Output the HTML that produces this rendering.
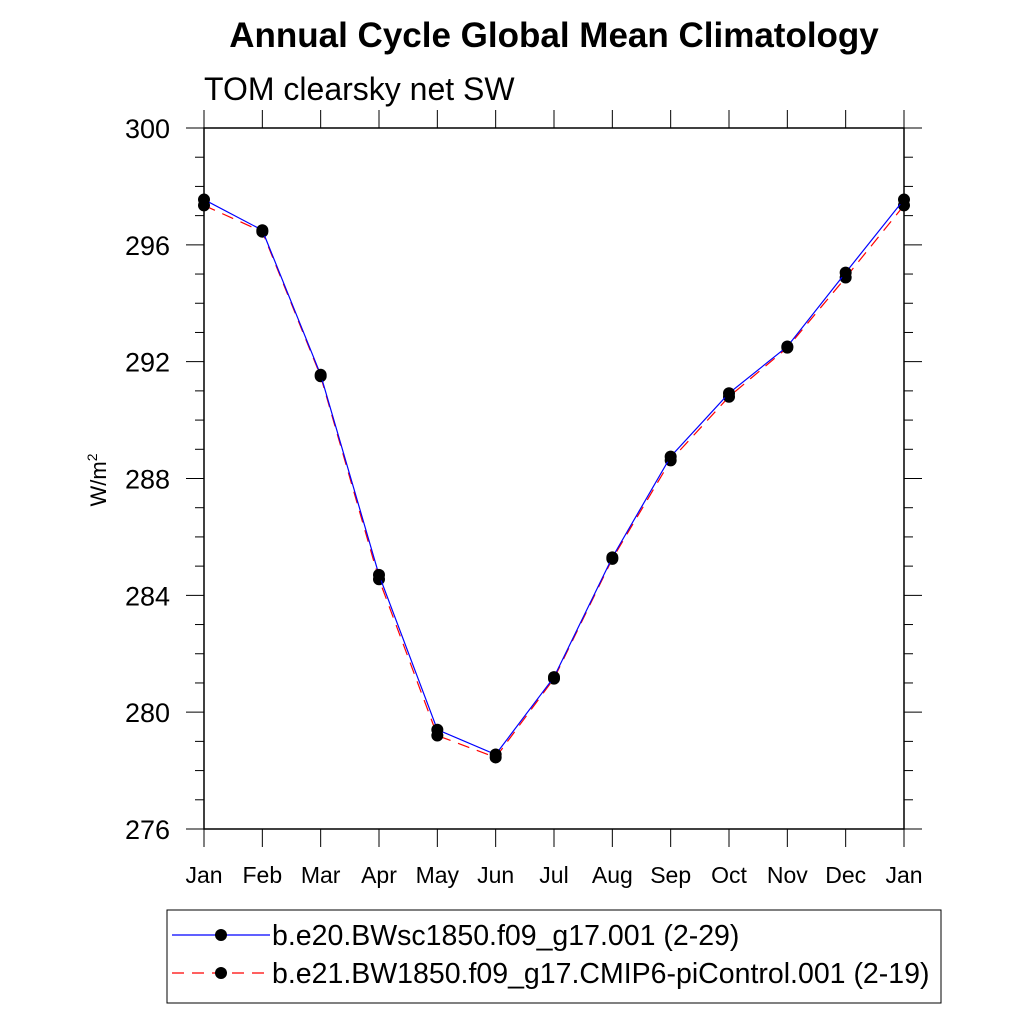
<!DOCTYPE html>
<html><head><meta charset="utf-8"><style>body{margin:0;background:#fff}svg{display:block}</style></head>
<body>
<svg id="chart" width="1024" height="1024" xmlns="http://www.w3.org/2000/svg" font-family="Liberation Sans, sans-serif">
<text x="554" y="47" font-size="35" font-weight="bold" text-anchor="middle">Annual Cycle Global Mean Climatology</text>
<text x="204" y="100" font-size="32">TOM clearsky net SW</text>
<text transform="translate(106,480) rotate(-90)" font-size="22" text-anchor="middle">W/m<tspan dy="-9" font-size="14">2</tspan></text>
<g id="axes"></g>
<g id="series"></g>
<g>
<rect x="167" y="910" width="774" height="93" fill="none" stroke="#000" stroke-width="1"/>
<line x1="172" y1="935" x2="270" y2="935" stroke="#0000ff" stroke-width="1.2"/>
<circle cx="221" cy="935" r="6" fill="#000"/>
<text x="272" y="945" font-size="28.5">b.e20.BWsc1850.f09_g17.001 (2-29)</text>
<line x1="172" y1="973" x2="270" y2="973" stroke="#ff0000" stroke-width="1.2" stroke-dasharray="12,8"/>
<circle cx="221" cy="973" r="6" fill="#000"/>
<text x="272" y="983" font-size="28.5">b.e21.BW1850.f09_g17.CMIP6-piControl.001 (2-19)</text>
</g>
</svg>
<script>
const months = ["Jan","Feb","Mar","Apr","May","Jun","Jul","Aug","Sep","Oct","Nov","Dec","Jan"];
const yTicks = [276,280,284,288,292,296,300];
const seriesBlue = [297.55,296.5,291.55,284.7,279.4,278.55,281.2,285.3,288.75,290.92,292.52,295.05,297.55];
const seriesRed  = [297.35,296.45,291.5,284.55,279.2,278.45,281.15,285.25,288.62,290.8,292.48,294.88,297.35];
const NS="http://www.w3.org/2000/svg";
const L=204,R=904,T=128,B=829,yMin=276,yMax=300;
const xs=i=>L+(R-L)*i/(months.length-1);
const ys=v=>B-(B-T)*(v-yMin)/(yMax-yMin);
function mk(tag,attrs,parent){const e=document.createElementNS(NS,tag);for(const k in attrs)e.setAttribute(k,attrs[k]);parent.appendChild(e);return e;}
const ax=document.getElementById('axes');
const frame=mk('rect',{x:L,y:T,width:R-L,height:B-T,fill:'none',stroke:'#000','stroke-width':1.5},ax);


months.forEach((m,i)=>{const x=xs(i);
 mk('line',{x1:x,y1:T,x2:x,y2:T-18,stroke:'#000','stroke-width':1},ax);
 mk('line',{x1:x,y1:B,x2:x,y2:B+18,stroke:'#000','stroke-width':1},ax);
 const t=mk('text',{x:x,y:883,'font-size':23,'text-anchor':'middle'},ax);t.textContent=m;
 
 
});
for(let v=yMin;v<=yMax;v++){const y=ys(v);const major=(v-yMin)%4===0;const len=major?18:9;
 mk('line',{x1:L,y1:y,x2:L-len,y2:y,stroke:'#000','stroke-width':1},ax);
 mk('line',{x1:R,y1:y,x2:R+len,y2:y,stroke:'#000','stroke-width':1},ax);}
yTicks.forEach(v=>{const t=mk('text',{x:170,y:ys(v)+10,'font-size':27,'text-anchor':'end'},ax);t.textContent=v;
 
 });
const sg=document.getElementById('series');
function draw(vals,color,dash,name){
 const p=mk('polyline',{points:vals.map((v,i)=>xs(i)+','+ys(v)).join(' '),fill:'none',stroke:color,'stroke-width':1.2},sg);
 if(dash)p.setAttribute('stroke-dasharray',dash);
 
 
 vals.forEach((v,i)=>{const c=mk('circle',{cx:xs(i),cy:ys(v),r:6,fill:'#000'},sg);
  
  });
}
draw(seriesRed,'#ff0000','12,8','series-bw1850');
draw(seriesBlue,'#0000ff',null,'series-bwsc1850');
</script>
</body></html>
